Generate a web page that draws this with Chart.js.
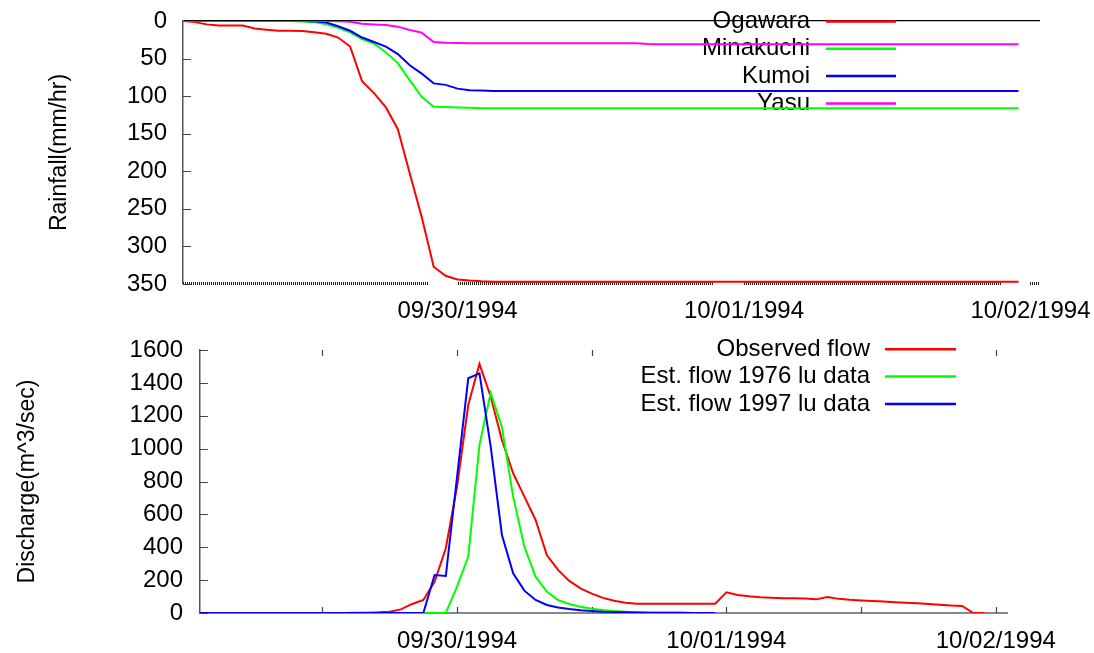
<!DOCTYPE html>
<html>
<head>
<meta charset="utf-8">
<script src="https://cdn.jsdelivr.net/npm/chart.js@4"></script>
<style>
  html, body { margin: 0; padding: 0; background: #fff; }
  #wrap { position: relative; width: 1094px; height: 653px; }
  .panel { position: absolute; left: 0; width: 1094px; }
  #rainPanel { top: 0; height: 335px; }
  #flowPanel { top: 330px; height: 323px; }
</style>
</head>
<body>
<div id="wrap">
  <div class="panel" id="rainPanel"><canvas id="rainChart"></canvas></div>
  <div class="panel" id="flowPanel"><canvas id="flowChart"></canvas></div>
</div>
<script>
// hourly steps, hour 1 = 09/29/1994 01:00
const hours = Array.from({ length: 71 }, (_, i) => i + 1);
const dayTicks = [24, 48, 72];
const dayLabels = ['09/30/1994', '10/01/1994', '10/02/1994'];
const halfDayTicks = [12, 24, 36, 48, 60, 72];

// cumulative rainfall (mm)
const ogawara = [
    0, 1.5, 4.5, 6, 6, 6, 10, 11.5, 13, 13, 13.3, 15, 17, 22, 34, 80, 96, 115, 144, 203, 261, 327, 339, 344, 345.5, 346.5,
    347, 347, 347, 347, 347, 347, 347, 347, 347, 347, 347, 347, 347, 347, 347,
    347, 347, 347, 347, 347, 347, 347, 347, 347, 347, 347, 347, 347, 347, 347,
    347, 347, 347, 347, 347, 347, 347, 347, 347, 347, 347, 347, 347, 347, 347
];
const minakuchi = [
    0, 0, 0, 0, 0, 0, 0, 0, 0, 0,
    0.5, 1.5, 4.5, 9, 15, 24, 30, 42, 56, 79, 101, 114, 114.5, 115, 115.5,
    116, 116, 116, 116, 116, 116, 116, 116, 116, 116, 116, 116, 116, 116, 116, 116,
    116, 116, 116, 116, 116, 116, 116, 116, 116, 116, 116, 116, 116, 116, 116,
    116, 116, 116, 116, 116, 116, 116, 116, 116, 116, 116, 116, 116, 116, 116
];
const kumoi = [
    0, 0, 0, 0, 0, 0, 0, 0, 0, 0, 0,
    0.5, 2, 7, 13, 22, 28, 34, 44, 59, 70, 83, 85, 90, 92, 92.5,
    93, 93, 93, 93, 93, 93, 93, 93, 93, 93, 93, 93, 93, 93, 93,
    93, 93, 93, 93, 93, 93, 93, 93, 93, 93, 93, 93, 93, 93, 93,
    93, 93, 93, 93, 93, 93, 93, 93, 93, 93, 93, 93, 93, 93, 93
];
const yasu = [
    0, 0, 0, 0, 0, 0, 0, 0, 0, 0, 0, 0, 0,
    0.3, 1, 3.5, 4.5, 5.3, 7.5, 12, 15.5, 28, 29, 29.3,
    29.6, 29.6, 29.6, 29.6, 29.6, 29.6, 29.6, 29.6, 29.6, 29.6, 29.6, 29.6, 29.6, 29.6, 29.6,
    30.5,
    31, 31, 31, 31, 31, 31, 31, 31, 31, 31, 31, 31, 31, 31, 31, 31,
    31, 31, 31, 31, 31, 31, 31, 31, 31, 31, 31, 31, 31, 31, 31
];

// discharge (m^3/sec)
const observedFlow = [
    0, 0, 0, 0, 0, 0, 0, 0, 0, 0, 0, 0, 0, 0,
    1, 2, 4, 8, 22, 55, 79, 190, 394, 768, 1265, 1515, 1316, 1052, 850, 708, 566, 353, 262, 195, 150, 118, 92, 75, 63, 57,
    57, 57, 57, 57, 57, 57, 57,
    126, 110, 102, 96, 93, 90, 89, 88, 83, 97, 86, 80, 76, 73, 70, 66, 63, 60, 55, 50, 45, 43, 0, 0
];
const estFlow1976 = [
    0, 0, 0, 0, 0, 0, 0, 0, 0, 0, 0, 0, 0, 0, 0, 0, 0, 0, 0, 0, 0, 0, 0,
    160, 343, 1022, 1340, 1130, 708, 403, 221, 130, 79, 55, 38, 26, 18, 12, 8, 5, 3, 2, 1, 1, 0.5, 0.5, 0
];
const estFlow1997 = [
    0, 0, 0, 0, 0, 0, 0, 0, 0, 0, 0, 0, 0, 0, 0, 0, 0, 0, 0, 0, 0,
    231, 225, 826, 1428, 1458, 1012, 475, 241, 136, 79, 49, 33, 24, 17, 12, 8, 6, 4, 3, 2, 1.5, 1, 1, 0.5, 0.5, 0
];

const FONT = "'Liberation Sans', Arial, sans-serif";
Chart.defaults.font.family = FONT;
Chart.defaults.color = '#000';

function toPoints(values) {
    return values.map((v, i) => ({ x: hours[i], y: v }));
}

function line(label, values, color, order) {
    return {
        label: label,
        data: toPoints(values),
        borderColor: color,
        backgroundColor: color,
        borderWidth: 2,
        pointRadius: 0,
        tension: 0,
        fill: false,
        order: order
    };
}

function dateLabel(v) {
    const i = dayTicks.indexOf(v);
    return i >= 0 ? dayLabels[i] : '';
}

// gnuplot-like key: text right aligned, line sample after it
const lineKey = {
    id: 'lineKey',
    beforeDatasetsDraw(chart, args, opts) {
        const ctx = chart.ctx;
        ctx.save();
        ctx.font = opts.font;
        ctx.textAlign = 'right';
        ctx.textBaseline = 'middle';
        let left = opts.textRight;
        chart.data.datasets.forEach((ds, i) => {
            const y = opts.top + i * opts.rowHeight;
            ctx.fillStyle = '#000';
            ctx.fillText(ds.label, opts.textRight, y);
            left = Math.min(left, opts.textRight - ctx.measureText(ds.label).width);
            ctx.strokeStyle = ds.borderColor;
            ctx.lineWidth = 2.5;
            ctx.beginPath();
            ctx.moveTo(opts.lineStart, y);
            ctx.lineTo(opts.lineEnd, y);
            ctx.stroke();
        });
        chart.$keyBox = { left: left, right: opts.lineEnd };
        ctx.restore();
    }
};

// tick marks pointing into the plot
const innerTicks = {
    id: 'innerTicks',
    beforeDatasetsDraw(chart, args, opts) {
        const { ctx, chartArea: a, scales } = chart;
        ctx.save();
        ctx.strokeStyle = '#444';
        ctx.lineWidth = 1.2;
        ctx.beginPath();
        scales.y.ticks.forEach(t => {
            const y = Math.round(scales.y.getPixelForValue(t.value)) + 0.5;
            ctx.moveTo(a.left, y);
            ctx.lineTo(a.left + 8, y);
        });
        if (opts.xTicks) {
            const key = chart.$keyBox;
            scales.x.ticks.forEach(t => {
                const x = Math.round(scales.x.getPixelForValue(t.value)) + 0.5;
                ctx.moveTo(x, a.bottom);
                ctx.lineTo(x, a.bottom - 6);
                if (!key || x < key.left - 5 || x > key.right + 5) {
                    ctx.moveTo(x, a.top);
                    ctx.lineTo(x, a.top + 6);
                }
            });
        }
        ctx.stroke();
        ctx.restore();
    }
};

// dotted base line under the rainfall plot
const dottedBase = {
    id: 'dottedBase',
    beforeDatasetsDraw(chart, args, opts) {
        const { ctx, chartArea: a, scales: { x } } = chart;
        ctx.save();
        ctx.strokeStyle = '#222';
        ctx.lineWidth = 3;
        ctx.setLineDash([1, 1]);
        ctx.beginPath();
        opts.segments.forEach(([h0, h1]) => {
            ctx.moveTo(Math.round(x.getPixelForValue(h0)), a.bottom - 0.5);
            ctx.lineTo(Math.round(x.getPixelForValue(h1)), a.bottom - 0.5);
        });
        ctx.stroke();
        ctx.restore();
    }
};

function fixWidth(w) {
    return s => { s.width = w; s.paddingTop = 0; s.paddingBottom = 0; };
}
function fixHeight(h) {
    return s => { s.height = h; s.paddingLeft = 0; s.paddingRight = 0; };
}

const rainChart = new Chart(document.getElementById('rainChart'), {
    type: 'line',
    data: {
        datasets: [
            line('Ogawara', ogawara, '#ff0000', 4),
            line('Minakuchi', minakuchi, '#00ff00', 3),
            line('Kumoi', kumoi, '#0000ff', 2),
            line('Yasu', yasu, '#ff00ff', 1)
        ]
    },
    options: {
        responsive: true,
        maintainAspectRatio: false,
        animation: false,
        layout: { padding: { left: 0, top: 21, right: 54, bottom: 0 } },
        plugins: {
            legend: { display: false },
            tooltip: { enabled: false },
            lineKey: { font: '24px ' + FONT, textRight: 810, lineStart: 826, lineEnd: 896, top: 21.5, rowHeight: 27.3 },
            innerTicks: { xTicks: false },
            dottedBase: { segments: [[1, 21.5], [24, 45.5], [48, 69.5], [72, 72.8]] }
        },
        scales: {
            x: {
                type: 'linear',
                min: 1,
                max: 72.8,
                afterBuildTicks: s => { s.ticks = dayTicks.map(v => ({ value: v })); },
                afterFit: fixHeight(51),
                grid: { display: false, drawTicks: false },
                border: { display: false },
                ticks: { autoSkip: false, maxRotation: 0, padding: 13.3, font: { size: 24 }, callback: dateLabel }
            },
            y: {
                reverse: true,
                min: 0,
                max: 350,
                afterFit: fixWidth(183),
                grid: {
                    drawTicks: false,
                    lineWidth: 1.3,
                    color: c => (c.tick && c.tick.value === 0 ? '#000' : 'rgba(0,0,0,0)')
                },
                border: { display: true, color: '#555', width: 1.5 },
                ticks: { stepSize: 50, padding: 16, font: { size: 24 }, callback: v => String(v) },
                title: { display: true, text: 'Rainfall(mm/hr)', font: { size: 23 }, padding: { top: 46, bottom: 0 } }
            }
        }
    },
    plugins: [lineKey, innerTicks, dottedBase]
});

const flowChart = new Chart(document.getElementById('flowChart'), {
    type: 'line',
    data: {
        datasets: [
            line('Observed flow', observedFlow, '#ff0000', 3),
            line('Est. flow 1976 lu data', estFlow1976, '#00ff00', 2),
            line('Est. flow 1997 lu data', estFlow1997, '#0000ff', 1)
        ]
    },
    options: {
        responsive: true,
        maintainAspectRatio: false,
        animation: false,
        layout: { padding: { left: 0, top: 20, right: 87, bottom: 0 } },
        plugins: {
            legend: { display: false },
            tooltip: { enabled: false },
            lineKey: { font: '24px ' + FONT, textRight: 870, lineStart: 885, lineEnd: 956, top: 19.3, rowHeight: 27.3 },
            innerTicks: { xTicks: true }
        },
        scales: {
            x: {
                type: 'linear',
                min: 1.1,
                max: 73,
                afterBuildTicks: s => { s.ticks = halfDayTicks.map(v => ({ value: v })); },
                afterFit: fixHeight(40),
                grid: { display: false, drawTicks: false },
                border: { display: true, color: '#888', width: 2 },
                ticks: { autoSkip: false, maxRotation: 0, padding: 13.6, font: { size: 24 }, callback: dateLabel }
            },
            y: {
                min: 0,
                max: 1600,
                afterFit: fixWidth(200),
                grid: { display: false, drawTicks: false },
                border: { display: true, color: '#555', width: 1.5 },
                ticks: { stepSize: 200, padding: 17, font: { size: 24 }, callback: v => String(v) },
                title: { display: true, text: 'Discharge(m^3/sec)', font: { size: 23 }, padding: { top: 14, bottom: 0 } }
            }
        }
    },
    plugins: [lineKey, innerTicks]
});
</script>
</body>
</html>
